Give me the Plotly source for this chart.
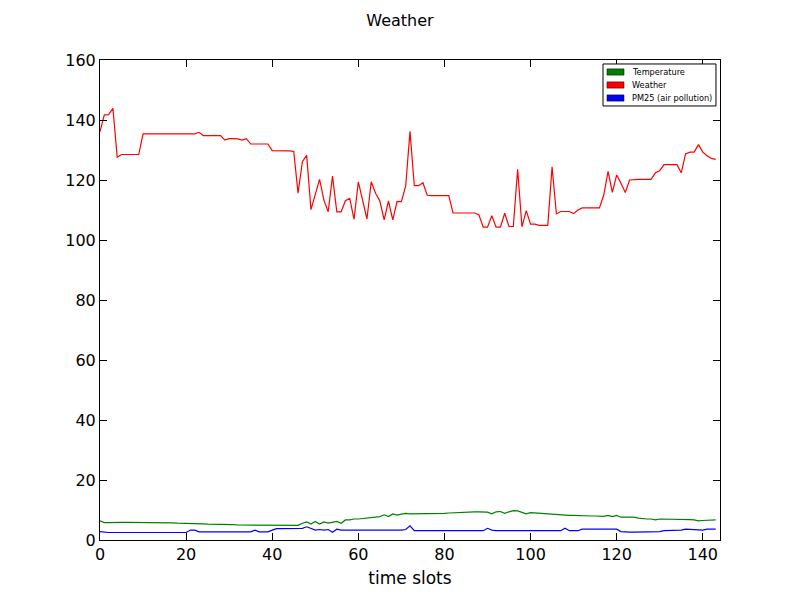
import plotly.graph_objects as go

# time slot index 0..143
slots = list(range(144))

weather = [
    136.1, 141.7, 141.8, 143.9, 127.6, 128.5, 128.5, 128.5, 128.5, 128.5,
    135.4, 135.4, 135.4, 135.4, 135.4, 135.4, 135.4, 135.4, 135.3, 135.2,
    135.2, 135.2, 135.4, 135.9, 134.8, 134.8, 134.8, 134.8, 134.8, 133.3,
    133.8, 133.8, 133.7, 133.3, 133.8, 132.0, 132.0, 132.0, 132.0, 132.0,
    129.8, 129.8, 129.8, 129.8, 129.7, 129.5, 115.6, 126.1, 128.2, 110.1,
    115.0, 120.2, 113.3, 109.4, 121.3, 109.4, 109.4, 113.1, 113.9, 106.9,
    119.4, 113.6, 107.0, 119.4, 115.6, 113.0, 106.7, 113.0, 106.7, 112.9,
    112.8, 118.0, 136.2, 118.1, 118.1, 119.1, 114.9, 114.8, 114.8, 114.8,
    114.8, 114.8, 109.0, 109.0, 109.0, 109.0, 109.0, 109.0, 108.4, 104.3,
    104.3, 108.1, 104.3, 104.3, 108.9, 104.5, 104.5, 123.6, 104.4, 109.8,
    105.3, 105.3, 104.9, 104.9, 104.9, 124.4, 108.7, 109.5, 109.6, 109.5,
    108.8, 110.0, 110.7, 110.7, 110.7, 110.7, 110.7, 115.0, 122.9, 115.9,
    121.7, 118.9, 115.8, 120.0, 120.2, 120.2, 120.2, 120.2, 120.2, 122.4,
    123.1, 125.1, 125.1, 125.1, 125.1, 122.4, 128.7, 129.3, 129.3, 131.8,
    129.3, 128.1, 127.2, 126.9,
]

temperature = [
    6.4, 5.8, 5.8, 5.9, 5.9, 5.9, 5.9, 5.9, 5.8, 5.8,
    5.8, 5.8, 5.8, 5.7, 5.7, 5.7, 5.7, 5.7, 5.6, 5.6,
    5.5, 5.5, 5.5, 5.4, 5.4, 5.3, 5.3, 5.3, 5.2, 5.2,
    5.1, 5.1, 5.0, 5.0, 5.0, 5.0, 5.0, 5.0, 5.0, 5.0,
    5.0, 4.9, 4.9, 4.9, 4.9, 4.9, 4.9, 5.6, 6.0, 5.3,
    6.2, 5.3, 6.0, 5.6, 6.0, 6.2, 5.6, 6.7, 6.7, 7.0,
    7.0, 7.2, 7.3, 7.5, 7.8, 7.8, 8.4, 7.8, 8.7, 8.3,
    8.6, 8.9, 8.7, 8.7, 8.7, 8.7, 8.8, 8.8, 8.8, 8.9,
    8.9, 9.0, 9.1, 9.2, 9.3, 9.3, 9.3, 9.4, 9.4, 9.4,
    9.3, 8.7, 9.4, 9.5, 8.9, 9.4, 9.8, 9.7, 9.3, 8.7,
    9.1, 9.0, 8.9, 8.8, 8.7, 8.6, 8.4, 8.2, 8.2, 8.2,
    8.2, 8.1, 8.1, 8.1, 8.0, 8.0, 8.0, 7.9, 8.2, 7.8,
    8.2, 7.6, 7.6, 7.6, 7.6, 7.3, 7.1, 7.0, 7.0, 6.7,
    7.0, 7.0, 7.0, 7.0, 6.9, 6.9, 6.9, 6.8, 6.7, 6.4,
    6.5, 6.5, 6.6, 6.7,
]

pm25 = [
    2.8, 2.6, 2.5, 2.5, 2.5, 2.5, 2.5, 2.5, 2.5, 2.5,
    2.5, 2.5, 2.5, 2.5, 2.5, 2.5, 2.5, 2.5, 2.5, 2.5,
    2.5, 3.3, 3.3, 2.7, 2.7, 2.7, 2.7, 2.7, 2.7, 2.7,
    2.7, 2.7, 2.7, 2.7, 2.7, 2.7, 3.3, 2.7, 2.7, 2.7,
    3.3, 3.8, 3.8, 3.8, 3.8, 3.8, 3.8, 3.9, 4.4, 3.8,
    3.3, 3.5, 3.3, 3.5, 2.6, 3.6, 3.3, 3.3, 3.3, 3.1,
    3.1, 3.3, 3.3, 3.2, 3.3, 3.3, 3.3, 3.2, 3.3, 3.3,
    3.3, 3.5, 4.7, 3.1, 3.1, 3.1, 3.1, 3.1, 3.1, 3.1,
    3.1, 3.1, 3.1, 3.1, 3.1, 3.1, 3.1, 3.1, 3.1, 3.1,
    3.9, 3.3, 3.1, 3.1, 3.1, 3.1, 3.1, 3.1, 3.1, 3.1,
    3.1, 3.1, 3.1, 3.1, 3.1, 3.1, 3.1, 3.1, 3.9, 3.1,
    3.1, 3.1, 3.6, 3.6, 3.6, 3.6, 3.6, 3.6, 3.6, 3.6,
    3.6, 2.8, 2.6, 2.6, 2.6, 2.6, 2.6, 2.6, 2.6, 2.6,
    2.8, 3.1, 3.1, 3.1, 3.3, 3.3, 3.6, 3.5, 3.3, 3.3,
    3.3, 3.6, 3.6, 3.6,
]

series = [
    ("Temperature", temperature, "#008000"),
    ("Weather", weather, "#ff0000"),
    ("PM25 (air pollution)", pm25, "#0000ff"),
]

fig = go.Figure()

for name, vals, color in series:
    fig.add_trace(go.Scatter(
        x=slots, y=vals, mode="lines", name=name,
        line=dict(color=color, width=1.2), showlegend=False,
    ))

# compact legend drawn by hand (plotly's own legend rows are too tall):
# a framed box with small colour patches, in paper coordinates
fig.add_shape(type="rect", xref="paper", yref="paper",
              x0=0.8113, x1=0.9935, y0=0.9042, y1=0.9917,
              line=dict(color="black", width=1), fillcolor="white",
              layer="above")
row_y = [0.975, 0.9479, 0.9208]
for (name, vals, color), ry in zip(series, row_y):
    fig.add_shape(type="rect", xref="paper", yref="paper",
                  x0=0.8177, x1=0.8452, y0=ry - 0.0065, y1=ry + 0.0065,
                  line=dict(color="black", width=0.5), fillcolor=color,
                  layer="above")
    fig.add_annotation(xref="paper", yref="paper", x=0.8548, y=ry,
                       text=name, showarrow=False, xanchor="left",
                       yanchor="middle", font=dict(size=8.2, color="black"))

axis_common = dict(
    showgrid=False, zeroline=False, showline=True, mirror="ticks",
    linecolor="black", linewidth=1, ticks="inside", ticklen=7,
    tickcolor="black", tickfont=dict(size=16, color="black"),
)

# page body adds an 8px offset, so margins are trimmed to keep the
# plot area at 100..720 x 60..540 in the window
fig.update_layout(
    width=800, height=600,
    paper_bgcolor="white", plot_bgcolor="white",
    font=dict(family="DejaVu Sans", color="black"),
    margin=dict(l=92, r=88, t=52, b=68),
    showlegend=False,
    title=dict(text="Weather", x=0.49, xanchor="center", y=0.98,
               yanchor="middle", font=dict(size=16)),
    xaxis=dict(range=[0, 144], dtick=20, tick0=0,
               title=dict(text="time slots", font=dict(size=17), standoff=8),
               **axis_common),
    yaxis=dict(range=[0, 160], dtick=20, tick0=0, **axis_common),
)

fig.write_html("out.html")
